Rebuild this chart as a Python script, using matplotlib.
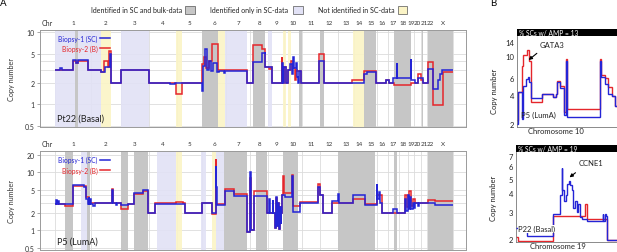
import matplotlib
matplotlib.use("Agg")
import matplotlib.pyplot as plt
from matplotlib.patches import Rectangle
from matplotlib.lines import Line2D
from matplotlib.ticker import NullLocator
import matplotlib.transforms as mtrans

plt.rcParams['font.family'] = ['Lato', 'DejaVu Sans']

# ---------------- data ----------------
chrom_names = [str(i) for i in range(1, 23)] + ['X']
# genome position (bins) of chromosome boundaries
chrom_edges = [0, 36, 66, 94, 122, 147, 171, 195, 213, 229, 247, 265, 283, 299,
               310, 322, 333, 344, 353, 359, 366, 372, 378, 398]

# Pt22 (Basal): Biopsy-1 single cell, Biopsy-2 bulk
pt22_sc_edges = [0, 5, 7, 17.5, 20.5, 23, 32.5, 45.5, 49.5, 54.5, 56, 65.7, 94, 114.7,
                 119.7, 147, 147.5, 150, 152, 154, 156, 158, 162, 164, 168.5, 169.5,
                 191.7, 198.3, 206.5, 209.5, 210, 217.3, 226.7, 227.7, 228.7, 231, 233,
                 235, 236.5, 238, 239, 240.5, 241.5, 243, 244, 245.7, 264, 269.3, 309.3,
                 312, 320.7, 331, 334, 338.3, 341.7, 342.3, 355.7, 356.3, 360, 363,
                 367.7, 373.3, 378, 383.3, 385, 387, 398]
pt22_sc_cn = [3.0, 3.2, 3.0, 4.1, 3.8, 4.1, 3.0, 2.8, 3.3, 5.0, 2.0, 3.0, 2.0, 1.9, 2.0,
              1.5, 3.4, 5.8, 3.0, 4.0, 2.9, 3.8, 2.8, 2.9, 2.7, 2.9, 2.0, 3.9, 5.2, 5.4,
              3.3, 2.0, 3.7, 2.0, 3.3, 2.0, 3.0, 3.6, 2.6, 4.5, 3.2, 3.8, 2.4, 2.0, 2.9,
              2.0, 4.0, 2.0, 2.6, 2.8, 2.0, 2.2, 2.0, 2.3, 3.8, 2.3, 4.3, 2.2, 2.0, 2.3,
              2.0, 3.1, 1.65, 2.2, 2.6, 3.0]
pt22_b_edges = [0, 17.5, 20.5, 23, 32.5, 45.5, 49, 53, 54, 56, 65.7, 94, 121, 127, 147,
                149, 151, 154, 156.5, 162.5, 164, 191.7, 198.3, 207, 210, 214, 216, 217.3,
                226.7, 227.3, 228.7, 231, 233, 236, 238, 240, 241, 242, 245.7, 264, 269.3,
                296.7, 309.3, 320.7, 331, 334, 339.3, 356, 363, 366, 368, 373.3, 377.7,
                387.7, 398]
pt22_b_cn = [3.0, 4.0, 3.7, 4.0, 3.0, 2.8, 4.0, 3.3, 5.5, 2.0, 3.0, 2.0, 1.4, 2.0, 3.6,
             4.5, 3.2, 4.0, 6.8, 3.0, 2.95, 2.0, 6.6, 5.9, 3.3, 3.1, 3.3, 2.0, 4.5, 2.0,
             3.3, 2.0, 3.0, 4.0, 3.2, 2.2, 3.0, 2.9, 2.0, 5.05, 2.0, 2.15, 2.9, 2.0, 2.2,
             2.0, 1.85, 2.0, 2.6, 2.2, 2.0, 3.9, 0.97, 2.8]
pt22_both = [(19.7, 23), (147.3, 163.3), (198.3, 210), (244.3, 246.7), (265, 269.3),
             (309, 321), (339.3, 356), (366.7, 368.3), (373.3, 398.3)]
pt22_sc_only = [(0, 46.3), (65.7, 94), (170, 191.7), (212.7, 217.3)]
pt22_not_sc = [(46.3, 55.7), (121.3, 127), (163.3, 170), (228, 231), (233, 236),
               (297.7, 309)]

# P5 (LumA)
p5_sc_edges = [0, 1, 1.5, 3, 4, 9.7, 18, 29, 31, 32.5, 33.5, 34, 35, 35.5, 38, 40, 56.5,
               57.5, 61, 62, 66, 72.7, 79.3, 88.3, 93.3, 99.7, 129.7, 146.7, 157.3, 160.7,
               161.3, 161.7, 170, 179.3, 191.7, 195, 196, 199.3, 211.7, 214, 214.5, 217.5,
               218, 220, 221, 221.7, 222.5, 223.5, 224.5, 225.5, 226, 226.7, 230, 237,
               237.7, 238.3, 245, 263, 265, 268, 276.7, 283, 283.5, 298.3, 310, 321.7,
               322.3, 324, 325, 327.3, 338.3, 341.7, 350, 351, 352.5, 353.5, 355, 356,
               357.5, 358.5, 360, 363, 364, 380, 398]
p5_sc_cn = [2.8, 3.4, 2.9, 3.2, 2.9, 2.8, 6.0, 5.5, 3.5, 2.9, 3.8, 2.9, 3.5, 2.8, 2.6,
            3.0, 5.0, 3.0, 2.7, 3.0, 2.7, 2.85, 4.4, 5.0, 2.0, 2.9, 2.0, 3.0, 2.0, 12.6,
            5.6, 2.7, 4.7, 3.9, 0.94, 10.1, 1.0, 3.9, 2.0, 3.5, 2.0, 3.4, 2.0, 1.1, 3.8,
            1.2, 3.0, 1.05, 2.5, 1.3, 2.0, 4.0, 3.8, 8.5, 3.8, 2.1, 3.0, 5.5, 4.0, 2.0,
            3.15, 4.2, 3.0, 4.0, 2.7, 6.3, 3.5, 4.5, 3.0, 2.0, 2.3, 2.0, 3.5, 2.2, 4.0,
            2.3, 3.8, 2.3, 3.0, 2.4, 3.0, 2.6, 3.0, 2.7]
p5_b_edges = [0, 9.7, 18, 31, 34, 56.5, 57.5, 66, 72.7, 79.3, 88.3, 93.3, 99.7, 121, 128,
              129.7, 146.7, 157.3, 160.7, 161.3, 170, 179.3, 191.7, 195, 196, 199.3,
              211.7, 220, 221, 221.7, 222.5, 223.5, 224.5, 225.5, 226, 226.7, 228, 228.7,
              237, 237.7, 238.3, 245, 263, 265, 268, 276.7, 298.3, 310, 321.7, 322.3,
              327.3, 350, 352, 354, 356, 358, 360, 373.3, 380, 398]
p5_b_cn = [2.9, 2.63, 5.8, 3.8, 3.0, 5.2, 3.0, 2.33, 2.9, 4.2, 4.8, 2.0, 2.95, 3.05, 2.95,
           2.0, 3.0, 1.9, 17.0, 2.9, 5.1, 4.2, 0.95, 8.0, 1.0, 4.8, 2.0, 1.1, 3.6, 1.2,
           3.0, 1.05, 2.5, 1.3, 2.0, 4.0, 8.8, 4.4, 9.0, 4.4, 2.6, 3.1, 6.3, 4.0, 2.0,
           3.0, 3.5, 2.9, 5.0, 4.0, 2.0, 4.0, 2.5, 4.8, 2.6, 3.5, 3.0, 3.3, 3.2]
p5_both = [(10, 18), (32.3, 34.7), (66, 72.7), (79, 93), (169, 192), (201, 212),
           (228, 243), (283.3, 320), (339, 341.7), (373, 398)]
p5_sc_only = [(26.3, 32.3), (101.7, 121), (146, 151), (161, 169)]
p5_not_sc = [(121, 126.7), (157, 161)]

# Panel B: chromosome 10 (P5) and chromosome 19 (P22)
chr10_sc_edges = [0, 0.5, 4.7, 6.3, 8.7, 10.7, 12.3, 13.7, 24.7, 36.3, 38.7, 39.7, 43, 47,
                  49, 50.3, 83, 84, 87.7, 91, 94.7, 97.7, 113]
chr10_sc_cn = [2.0, 4.3, 2.25, 4.9, 5.8, 6.2, 5.5, 3.7, 4.1, 3.8, 4.1, 5.4, 4.7, 2.5,
               9.0, 2.35, 9.0, 6.2, 5.2, 4.1, 3.9, 3.1]
chr10_b_edges = [0, 0.5, 4.7, 6.3, 9.7, 12.3, 13.7, 24.7, 36.3, 38.7, 39.7, 43, 47, 49,
                 50.3, 83, 84, 87.7, 91, 94.7, 97.7, 113]
chr10_b_cn = [2.2, 4.3, 8.0, 10.3, 11.7, 9.0, 3.4, 4.1, 3.8, 4.1, 5.6, 4.9, 2.7, 9.3,
              2.86, 9.3, 6.5, 6.0, 4.8, 3.9, 3.1]
chr19_sc_edges = [0, 10.7, 37.3, 44, 45.7, 46.3, 48, 49.7, 51.3, 53.3, 54, 55.7, 57.3, 59,
                  61.3, 62.3, 64, 65.7, 70.7, 86.7, 87.3, 89, 89.7, 90.7, 114]
chr19_sc_cn = [2.35, 2.1, 2.92, 3.9, 5.9, 4.2, 3.56, 3.9, 4.6, 4.8, 4.5, 4.2, 3.2, 3.55,
               3.0, 3.4, 2.78, 2.7, 2.64, 2.9, 2.64, 2.9, 2.85, 1.97]
chr19_b_edges = [0, 2.3, 37.3, 69, 70.7, 90.7, 114]
chr19_b_cn = [2.05, 1.95, 2.85, 3.39, 2.7, 1.97]

# ---------------- style ----------------
BLUE = '#2424d6'
RED = '#e5262b'
GRAY = '#c6c6c6'
LAV = '#e2e2f6'
YEL = '#fbf4c6'
GRID = '#dcdcdc'
TXT = '#333333'
SPINE = '#9a9a9a'

W, H = 617, 253
fig = plt.figure(figsize=(W / 100, H / 100), dpi=100)


def fr(x0, y0, x1, y1):
    return [x0 / W, 1 - y1 / H, (x1 - x0) / W, (y1 - y0) / H]


def genome_panel(ax, ylim, yticks, ylabels, sc_e, sc_v, b_e, b_v, both, sc_only,
                 not_sc, name):
    ax.set_xlim(-15, 411)
    ax.set_yscale('log')
    ax.set_ylim(*ylim)
    for e in chrom_edges:
        ax.axvline(e, color=GRID, lw=0.6, zorder=0.2)
    for y in sorted(set(yticks + [3, 4])):
        ax.axhline(y, color=GRID, lw=0.6, zorder=0.2)
    for a, b in sc_only:
        ax.axvspan(a, b, color=LAV, lw=0, zorder=0.5, alpha=0.9)
    for a, b in not_sc:
        ax.axvspan(a, b, color=YEL, lw=0, zorder=0.5, alpha=0.9)
    for a, b in both:
        ax.axvspan(a, b, color=GRAY, lw=0, zorder=0.6)
    ax.stairs(b_v, b_e, baseline=None, color=RED, lw=1.1, zorder=2)
    ax.stairs(sc_v, sc_e, baseline=None, color=BLUE, lw=1.1, zorder=3)
    ax.set_xticks([])
    ax.set_yticks(yticks)
    ax.set_yticklabels(ylabels)
    ax.yaxis.set_minor_locator(NullLocator())
    ax.tick_params(axis='y', labelsize=5, length=2.5, width=0.6, colors=SPINE,
                   labelcolor=TXT, pad=1.5)
    for s in ax.spines.values():
        s.set_color(SPINE)
        s.set_linewidth(0.7)
    ax.set_ylabel('Copy number', fontsize=5.2, color=TXT)
    ax.yaxis.set_label_coords(-0.059, 0.5)
    tr = mtrans.blended_transform_factory(ax.transData, ax.transAxes)
    for i, nm in enumerate(chrom_names):
        mid = 0.5 * (chrom_edges[i] + chrom_edges[i + 1])
        ax.text(mid, 1.075, nm, transform=tr, ha='center', va='center', fontsize=4.5,
                color=TXT)
    ax.text(-8, 1.075, 'Chr', transform=tr, ha='center', va='center', fontsize=5,
            color=TXT)
    handles = [Line2D([], [], color=BLUE, lw=1.1), Line2D([], [], color=RED, lw=1.1)]
    leg = ax.legend(handles, ['Biopsy-1 (SC)', 'Biopsy-2 (B)'], loc='upper left',
                    bbox_to_anchor=(0.043, 0.95), frameon=False, fontsize=4.8,
                    markerfirst=False, handlelength=1.5, handletextpad=0.3,
                    labelspacing=0.45, borderaxespad=0, borderpad=0,
                    labelcolor='linecolor')
    leg.set_zorder(6)
    ax.text(0.04, 0.09, name, transform=ax.transAxes, fontsize=6.5, va='center',
            ha='left', color='#222222', zorder=6)


axA1 = fig.add_axes(fr(40, 30.7, 466, 128))
genome_panel(axA1, (0.48, 10.9), [0.5, 1, 2, 5, 10], ['0.5', '1', '2', '5', '10'],
             pt22_sc_edges, pt22_sc_cn, pt22_b_edges, pt22_b_cn,
             pt22_both, pt22_sc_only, pt22_not_sc, 'Pt22 (Basal)')
axA2 = fig.add_axes(fr(40, 152.3, 466, 250.5))
genome_panel(axA2, (0.47, 23), [0.5, 1, 2, 5, 10, 20],
             ['0.5', '1', '2', '5', '10', '20'],
             p5_sc_edges, p5_sc_cn, p5_b_edges, p5_b_cn,
             p5_both, p5_sc_only, p5_not_sc, 'P5 (LumA)')

# shading legend at top
ly = 1 - 10.7 / H
for txt, xr, x0, col in [('Identified in SC and bulk-data', 182, 185, GRAY),
                          ('Identified only in SC-data', 288, 293, LAV),
                          ('Not identified in SC-data', 395, 398, YEL)]:
    fig.text(xr / W, ly, txt, ha='right', va='center', fontsize=5, color='#222222')
    fig.add_artist(Rectangle((x0 / W, 1 - 14.7 / H), 9.5 / W, 8 / H, facecolor=col,
                             edgecolor='#555555', lw=0.5, transform=fig.transFigure))

fig.text(3 / W, 1 - 4 / H, 'A', fontsize=7, ha='center', va='center')
fig.text(493 / W, 1 - 4 / H, 'B', fontsize=7, ha='center', va='center')


def zoom_panel(ax, xmax, ylim, yticks, sc_e, sc_v, b_e, b_v, title, chrom_label,
               label_x, ylab_y, bar_h):
    ax.set_xlim(0, xmax)
    ax.set_yscale('log')
    ax.set_ylim(*ylim)
    ax.stairs(b_v, b_e, baseline=None, color=RED, lw=1.0, zorder=2)
    ax.stairs(sc_v, sc_e, baseline=None, color=BLUE, lw=1.0, zorder=3)
    ax.set_xticks([])
    ax.set_yticks(yticks)
    ax.set_yticklabels([str(t) for t in yticks])
    ax.yaxis.set_minor_locator(NullLocator())
    ax.tick_params(axis='y', labelsize=5.5, length=0, pad=2, labelcolor='#222222')
    for k, s in ax.spines.items():
        s.set_color('#777777')
        s.set_linewidth(0.6)
    ax.spines['top'].set_visible(False)
    ax.spines['right'].set_visible(False)
    ax.set_ylabel('Copy number', fontsize=5.5, color='#222222')
    ax.yaxis.set_label_coords(-0.165, ylab_y)
    ax.add_patch(Rectangle((0, 1.0), 1.0, bar_h, transform=ax.transAxes,
                           clip_on=False, facecolor='black', edgecolor='none'))
    ax.text(0.02, 1.0 + bar_h / 2, title, transform=ax.transAxes, color='white',
            fontsize=4.8, ha='left', va='center')
    ax.text(label_x, -0.04, chrom_label, transform=ax.transAxes, ha='center',
            va='center', fontsize=5.5, color='#222222')


axB1 = fig.add_axes(fr(517, 37.3, 630, 128))
zoom_panel(axB1, 113, (1.87, 16.1), [2, 4, 6, 10, 14], chr10_sc_edges, chr10_sc_cn,
           chr10_b_edges, chr10_b_cn, '% SCs w/ AMP = 13', 'Chromosome 10', 0.34,
           0.40, 0.08)
axB1.annotate('', xy=(9.5, 8.8), xytext=(22, 11.2),
              arrowprops=dict(arrowstyle='-|>', lw=0.8, color='black',
                              mutation_scale=5))
axB1.text(23, 13.3, 'GATA3', fontsize=5.5, ha='left', va='center', color='#222222')
axB1.text(3.7, 2.54, 'P5 (LumA)', fontsize=5.5, ha='left', va='center',
          color='#222222', zorder=5)

axB2 = fig.add_axes(fr(516, 153.3, 630, 243))
zoom_panel(axB2, 114, (1.91, 7.44), [2, 3, 4, 5, 6, 7], chr19_sc_edges, chr19_sc_cn,
           chr19_b_edges, chr19_b_cn, '% SCs w/ AMP = 19', 'Chromosome 19', 0.365,
           0.5, 0.085)
axB2.annotate('', xy=(51.3, 4.96), xytext=(61.7, 5.6),
              arrowprops=dict(arrowstyle='-|>', lw=0.8, color='black',
                              mutation_scale=5))
axB2.text(62.3, 6.4, 'CCNE1', fontsize=5.5, ha='left', va='center', color='#222222')
axB2.text(2.5, 2.33, 'P22 (Basal)', fontsize=5.5, ha='left', va='center',
          color='#222222', zorder=5,
          bbox=dict(facecolor='white', edgecolor='none', pad=0.3))

fig.savefig('out.png', dpi=100)
